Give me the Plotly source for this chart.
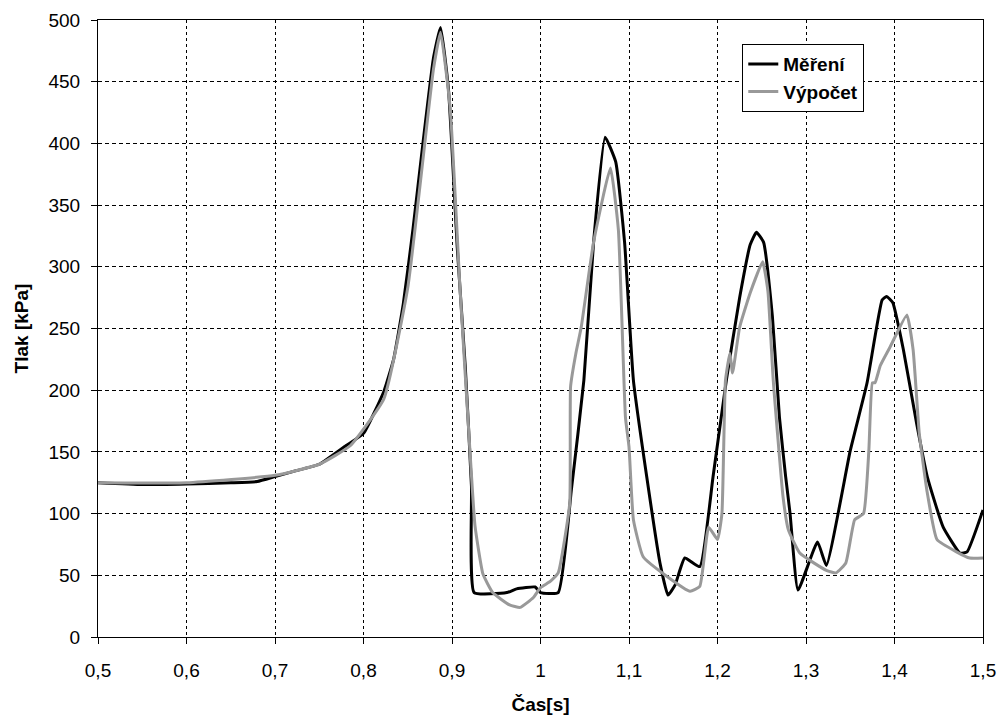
import plotly.graph_objects as go

# Měření (measurement)
t_mer = [0.5, 0.55, 0.6, 0.65, 0.68, 0.7, 0.72, 0.75, 0.78, 0.8, 0.823, 0.834, 0.845, 0.856,
         0.867, 0.879, 0.887, 0.896, 0.906, 0.915, 0.922, 0.925, 0.962, 0.973, 0.994, 1.0, 1.02,
         1.035, 1.049, 1.06, 1.073, 1.085, 1.095, 1.105, 1.12, 1.135, 1.144, 1.152, 1.163,
         1.18, 1.195, 1.21, 1.225, 1.237, 1.244, 1.252, 1.262, 1.27, 1.277, 1.282, 1.291,
         1.313, 1.323, 1.35, 1.369, 1.386, 1.391, 1.398, 1.41, 1.425, 1.437, 1.455, 1.474,
         1.482, 1.5]
p_mer = [125, 123.5, 124, 125, 126, 130, 134, 140, 155, 165, 199, 225, 270, 331,
         399, 469, 494, 444, 315, 219, 122, 36, 36, 39, 40.5, 36, 36,
         120, 208, 320, 405, 385, 320, 208, 130, 60, 34, 42, 64,
         57, 130, 208, 275, 318, 328, 320, 260, 178, 130, 100, 38,
         77, 58, 151, 206, 273, 276, 271, 233, 173, 130, 89, 68,
         69, 103]

# Výpočet (computation)
t_vyp = [0.5, 0.6, 0.7, 0.75, 0.785, 0.823, 0.85, 0.879, 0.887, 0.898, 0.909, 0.92, 0.926,
         0.935, 0.946, 0.965, 0.977, 0.992, 1.0, 1.011, 1.02, 1.033, 1.034, 1.04, 1.046,
         1.06, 1.079, 1.088, 1.096, 1.1, 1.105, 1.116, 1.143, 1.169, 1.18, 1.19, 1.2, 1.205,
         1.209, 1.214, 1.217, 1.225, 1.237, 1.251, 1.257, 1.263, 1.274, 1.28, 1.293, 1.323,
         1.334, 1.345, 1.355, 1.365, 1.371, 1.375, 1.378, 1.384, 1.395, 1.414, 1.421, 1.428,
         1.437, 1.448, 1.47, 1.485, 1.5]
p_vyp = [125, 125, 131, 140, 155, 193, 283, 460, 490, 428, 283, 154, 90,
         51, 36, 26, 24, 32, 40, 45, 52, 108, 203, 230, 251,
         320, 380, 330, 178, 154, 95, 65, 49, 37, 41, 89, 79, 100,
         208, 230, 214, 251, 279, 304, 280, 208, 114, 87, 68, 54,
         52, 60, 95, 100, 151, 206, 206, 220, 235, 261, 233, 165,
         117, 79, 69, 64, 64]

x_ticks = [0.5, 0.6, 0.7, 0.8, 0.9, 1.0, 1.1, 1.2, 1.3, 1.4, 1.5]
y_ticks = [0, 50, 100, 150, 200, 250, 300, 350, 400, 450, 500]

fig = go.Figure()
fig.add_trace(go.Scatter(x=t_mer, y=p_mer, mode="lines", name="Měření",
                         line=dict(color="#000000", width=3, shape="spline", smoothing=0.4)))
fig.add_trace(go.Scatter(x=t_vyp, y=p_vyp, mode="lines", name="Výpočet",
                         line=dict(color="#999999", width=3, shape="spline", smoothing=0.4)))

FAM = "Liberation Sans, Arial, sans-serif"

fig.update_layout(
    width=1001, height=719,
    margin=dict(l=98, r=18, t=20, b=82),
    paper_bgcolor="white", plot_bgcolor="white",
    separators=", ",
    font=dict(family=FAM, size=19, color="#000000"),
    showlegend=True,
    legend=dict(x=0.728, y=0.961, xanchor="left", yanchor="top",
                bgcolor="white", bordercolor="#000000", borderwidth=1,
                font=dict(family=FAM, size=19, color="#000000", weight="bold"),
                tracegroupgap=0, itemwidth=30),
    xaxis=dict(range=[0.5, 1.5], tickvals=x_ticks, showgrid=True, gridcolor="#000000",
               griddash="3px,3px", gridwidth=1, showline=True, linecolor="#000000", linewidth=1,
               mirror=True, ticks="outside", ticklen=6, tickcolor="#000000", zeroline=False,
               ticklabelstandoff=10, automargin=False,
               title=dict(text="Čas[s]", font=dict(size=19, weight="bold"), standoff=17),
               tickfont=dict(size=19)),
    yaxis=dict(range=[0, 500], tickvals=y_ticks, showgrid=True, gridcolor="#000000",
               griddash="4px,3px", gridwidth=1, showline=True, linecolor="#000000", linewidth=1,
               mirror=True, ticks="outside", ticklen=6, tickcolor="#000000", zeroline=False,
               ticklabelstandoff=7, automargin=False,
               title=dict(text="Tlak [kPa]", font=dict(size=19, weight="bold"), standoff=14),
               tickfont=dict(size=19)),
)

fig.write_html("out.html")
